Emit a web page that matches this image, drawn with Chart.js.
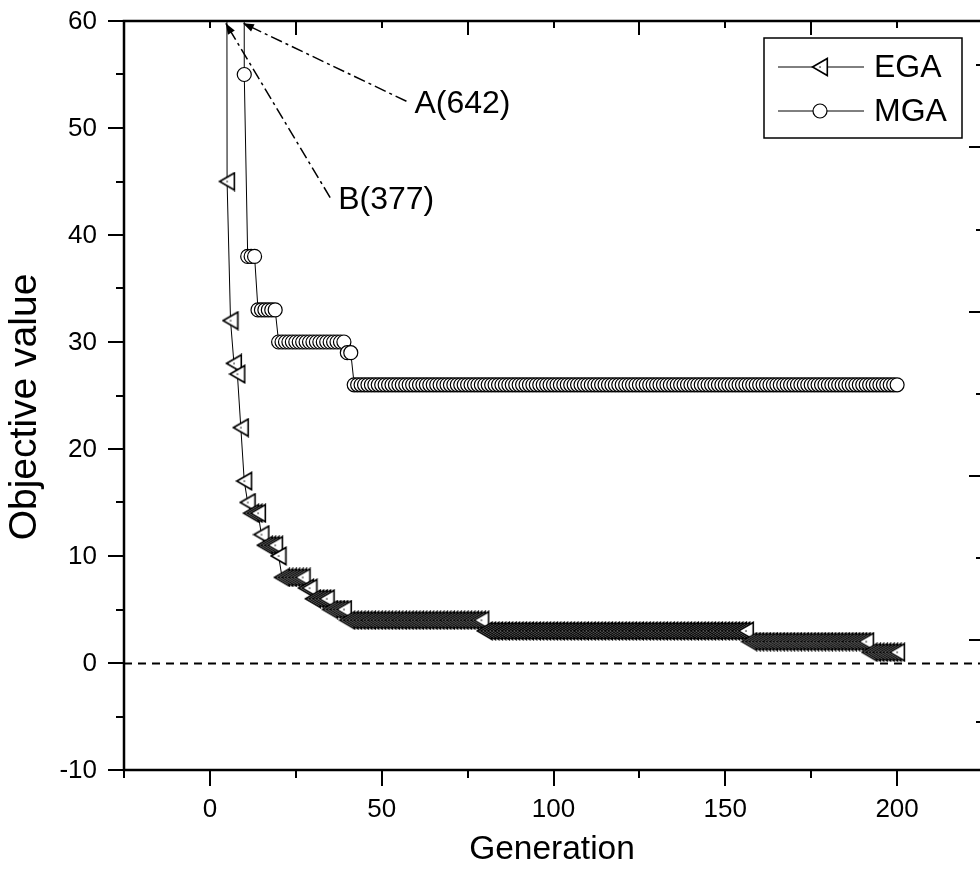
<!DOCTYPE html>
<html lang="en">
<head>
    <meta charset="UTF-8">
    <title>EGA vs MGA</title>
    <style>
        html, body {
            margin: 0;
            padding: 0;
            background: #fff;
            overflow: hidden;
        }

        #chart {
            display: block;
        }
    </style>
</head>
<body>
    <canvas id="chart" width="984" height="882"></canvas>
    <script src="https://cdn.jsdelivr.net/npm/chart.js@4"></script>
    <script>
        // generations 1..200
        const generations = [
            1, 2, 3, 4, 5, 6, 7, 8, 9, 10, 11, 12, 13, 14, 15, 16, 17, 18, 19, 20,
            21, 22, 23, 24, 25, 26, 27, 28, 29, 30, 31, 32, 33, 34, 35, 36, 37, 38, 39, 40,
            41, 42, 43, 44, 45, 46, 47, 48, 49, 50, 51, 52, 53, 54, 55, 56, 57, 58, 59, 60,
            61, 62, 63, 64, 65, 66, 67, 68, 69, 70, 71, 72, 73, 74, 75, 76, 77, 78, 79, 80,
            81, 82, 83, 84, 85, 86, 87, 88, 89, 90, 91, 92, 93, 94, 95, 96, 97, 98, 99, 100,
            101, 102, 103, 104, 105, 106, 107, 108, 109, 110, 111, 112, 113, 114, 115, 116, 117, 118, 119, 120,
            121, 122, 123, 124, 125, 126, 127, 128, 129, 130, 131, 132, 133, 134, 135, 136, 137, 138, 139, 140,
            141, 142, 143, 144, 145, 146, 147, 148, 149, 150, 151, 152, 153, 154, 155, 156, 157, 158, 159, 160,
            161, 162, 163, 164, 165, 166, 167, 168, 169, 170, 171, 172, 173, 174, 175, 176, 177, 178, 179, 180,
            181, 182, 183, 184, 185, 186, 187, 188, 189, 190, 191, 192, 193, 194, 195, 196, 197, 198, 199, 200
        ];

        // EGA best objective per generation (B(377) at gen 4)
        const egaValues = [
            null, null, null, 377, 45, 32, 28, 27, 22, 17, 15, 14, 14, 14, 12, 11, 11, 11, 11, 10,
            8, 8, 8, 8, 8, 8, 8, 7, 7, 6, 6, 6, 6, 6, 5, 5, 5, 5, 5, 4,
            4, 4, 4, 4, 4, 4, 4, 4, 4, 4, 4, 4, 4, 4, 4, 4, 4, 4, 4, 4,
            4, 4, 4, 4, 4, 4, 4, 4, 4, 4, 4, 4, 4, 4, 4, 4, 4, 4, 4, 3,
            3, 3, 3, 3, 3, 3, 3, 3, 3, 3, 3, 3, 3, 3, 3, 3, 3, 3, 3, 3,
            3, 3, 3, 3, 3, 3, 3, 3, 3, 3, 3, 3, 3, 3, 3, 3, 3, 3, 3, 3,
            3, 3, 3, 3, 3, 3, 3, 3, 3, 3, 3, 3, 3, 3, 3, 3, 3, 3, 3, 3,
            3, 3, 3, 3, 3, 3, 3, 3, 3, 3, 3, 3, 3, 3, 3, 3, 2, 2, 2, 2,
            2, 2, 2, 2, 2, 2, 2, 2, 2, 2, 2, 2, 2, 2, 2, 2, 2, 2, 2, 2,
            2, 2, 2, 2, 2, 2, 2, 2, 2, 2, 2, 1, 1, 1, 1, 1, 1, 1, 1, 1
        ];

        // MGA best objective per generation (A(642) at gen 9)
        const mgaValues = [
            null, null, null, null, null, null, null, null, 642, 55, 38, 38, 38, 33, 33, 33, 33, 33, 33, 30,
            30, 30, 30, 30, 30, 30, 30, 30, 30, 30, 30, 30, 30, 30, 30, 30, 30, 30, 30, 29,
            29, 26, 26, 26, 26, 26, 26, 26, 26, 26, 26, 26, 26, 26, 26, 26, 26, 26, 26, 26,
            26, 26, 26, 26, 26, 26, 26, 26, 26, 26, 26, 26, 26, 26, 26, 26, 26, 26, 26, 26,
            26, 26, 26, 26, 26, 26, 26, 26, 26, 26, 26, 26, 26, 26, 26, 26, 26, 26, 26, 26,
            26, 26, 26, 26, 26, 26, 26, 26, 26, 26, 26, 26, 26, 26, 26, 26, 26, 26, 26, 26,
            26, 26, 26, 26, 26, 26, 26, 26, 26, 26, 26, 26, 26, 26, 26, 26, 26, 26, 26, 26,
            26, 26, 26, 26, 26, 26, 26, 26, 26, 26, 26, 26, 26, 26, 26, 26, 26, 26, 26, 26,
            26, 26, 26, 26, 26, 26, 26, 26, 26, 26, 26, 26, 26, 26, 26, 26, 26, 26, 26, 26,
            26, 26, 26, 26, 26, 26, 26, 26, 26, 26, 26, 26, 26, 26, 26, 26, 26, 26, 26, 26
        ];

        const seriesNames = ['EGA', 'MGA'];
        const xTitle = 'Generation';
        const yTitle = 'Objective value';

        const xLabelTicks = [0, 50, 100, 150, 200];
        const xTickMarks = [-25, 0, 25, 50, 75, 100, 125, 150, 175, 200, 225];
        const yLabelTicks = [-10, 0, 10, 20, 30, 40, 50, 60];
        const yTickMarks = [-10, -5, 0, 5, 10, 15, 20, 25, 30, 35, 40, 45, 50, 55, 60];
        const rightTickMarks = [-0.5, 0, 0.5, 1, 1.5, 2, 2.5, 3, 3.5];

        const zeroLine = 0;

        // callouts: label, point on the curve (off-scale value), tail of the arrow
        const callouts = [
            { text: 'A(642)', tip: [9.6, 59.8], tail: [57.2, 52.5] },
            { text: 'B(377)', tip: [4.6, 59.8], tail: [35.0, 43.5] }
        ];

        const FONT = "'Liberation Sans', Arial, sans-serif";

        // left-pointing triangle with a centre dot, centred on its bounding box like Origin does
        function makeTriangle() {
            const c = document.createElement('canvas');
            c.width = 18;
            c.height = 20;
            const g = c.getContext('2d');
            g.beginPath();
            g.moveTo(1.5, 10);
            g.lineTo(16.3, 1.5);
            g.lineTo(16.3, 18.5);
            g.closePath();
            g.fillStyle = '#fff';
            g.fill();
            g.lineWidth = 1.6;
            g.strokeStyle = '#000';
            g.stroke();
            g.fillStyle = '#000';
            g.fillRect(8.4, 9.4, 1.3, 1.3);
            return c;
        }
        const triangle = makeTriangle();

        function drawArrowHead(ctx, x1, y1, x2, y2) {
            const ang = Math.atan2(y2 - y1, x2 - x1);
            const len = 11, half = 4;
            ctx.beginPath();
            ctx.moveTo(x2, y2);
            ctx.lineTo(x2 - len * Math.cos(ang) + half * Math.sin(ang), y2 - len * Math.sin(ang) - half * Math.cos(ang));
            ctx.lineTo(x2 - len * Math.cos(ang) - half * Math.sin(ang), y2 - len * Math.sin(ang) + half * Math.cos(ang));
            ctx.closePath();
            ctx.fill();
        }

        const originLook = {
            id: 'originLook',
            afterDraw(chart) {
                const ctx = chart.ctx;
                const area = chart.chartArea;
                const x = chart.scales.x;
                const y = chart.scales.y;
                const y2 = chart.scales.y2;
                ctx.save();
                ctx.strokeStyle = '#000';
                ctx.fillStyle = '#000';

                // dashed zero line
                ctx.lineWidth = 2;
                ctx.setLineDash([8, 6]);
                const zy = Math.round(y.getPixelForValue(zeroLine)) + 0.5;
                ctx.beginPath();
                ctx.moveTo(area.left, zy);
                ctx.lineTo(area.right, zy);
                ctx.stroke();
                ctx.setLineDash([]);

                // frame
                ctx.lineWidth = 2.5;
                ctx.strokeRect(area.left, area.top, area.right - area.left, area.bottom - area.top);

                // ticks
                ctx.lineWidth = 2;
                ctx.beginPath();
                yTickMarks.forEach(v => {
                    const py = Math.round(y.getPixelForValue(v));
                    const len = v % 10 === 0 ? 16 : 8;
                    ctx.moveTo(area.left - len, py);
                    ctx.lineTo(area.left, py);
                });
                xTickMarks.forEach(v => {
                    const px = Math.round(x.getPixelForValue(v));
                    const len = v % 50 === 0 ? 16 : 8;
                    ctx.moveTo(px, area.bottom);
                    ctx.lineTo(px, area.bottom + len);
                    const tlen = v % 50 === 0 ? 7 : 14;
                    ctx.moveTo(px, area.top);
                    ctx.lineTo(px, area.top + tlen);
                });
                rightTickMarks.forEach(v => {
                    const py = Math.round(y2.getPixelForValue(v));
                    const len = Number.isInteger(v) ? 14 : 7;
                    ctx.moveTo(area.right - len, py);
                    ctx.lineTo(area.right, py);
                });
                ctx.stroke();

                // tick labels
                ctx.font = '26px ' + FONT;
                ctx.textBaseline = 'middle';
                ctx.textAlign = 'right';
                yLabelTicks.forEach(v => {
                    ctx.fillText(String(v), area.left - 27, y.getPixelForValue(v) + 1);
                });
                ctx.textAlign = 'center';
                xLabelTicks.forEach(v => {
                    ctx.fillText(String(v), x.getPixelForValue(v), area.bottom + 40);
                });

                // axis titles
                ctx.font = '33.5px ' + FONT;
                ctx.fillText(xTitle, 552, 850);
                ctx.save();
                ctx.translate(25, 407);
                ctx.rotate(-Math.PI / 2);
                ctx.font = '39px ' + FONT;
                ctx.fillText(yTitle, 0, 0);
                ctx.restore();

                // callout arrows
                ctx.lineWidth = 1.5;
                ctx.font = '32px ' + FONT;
                ctx.textBaseline = 'middle';
                ctx.textAlign = 'left';
                callouts.forEach(c => {
                    const tx = x.getPixelForValue(c.tail[0]);
                    const ty = y.getPixelForValue(c.tail[1]);
                    const hx = x.getPixelForValue(c.tip[0]);
                    const hy = y.getPixelForValue(c.tip[1]);
                    ctx.setLineDash([12, 4, 3, 4]);
                    ctx.beginPath();
                    ctx.moveTo(tx, ty);
                    ctx.lineTo(hx, hy);
                    ctx.stroke();
                    ctx.setLineDash([]);
                    drawArrowHead(ctx, tx, ty, hx, hy);
                    ctx.fillText(c.text, tx + 8, ty + 3);
                });

                // legend
                const lx = 764, ly = 38, lw = 198, lh = 100;
                ctx.lineWidth = 1.5;
                ctx.fillStyle = '#fff';
                ctx.fillRect(lx, ly, lw, lh);
                ctx.strokeRect(lx, ly, lw, lh);
                chart.data.datasets.forEach((ds, i) => {
                    const ry = ly + 29 + i * 44;
                    ctx.lineWidth = 1;
                    ctx.beginPath();
                    ctx.moveTo(lx + 14, ry);
                    ctx.lineTo(lx + 100, ry);
                    ctx.stroke();
                    if (ds.pointStyle === 'circle') {
                        ctx.beginPath();
                        ctx.arc(lx + 56, ry, ds.pointRadius, 0, Math.PI * 2);
                        ctx.fillStyle = '#fff';
                        ctx.fill();
                        ctx.lineWidth = ds.pointBorderWidth;
                        ctx.stroke();
                    } else {
                        ctx.drawImage(ds.pointStyle, lx + 56 - 9, ry - 10);
                    }
                    ctx.fillStyle = '#000';
                    ctx.fillText(ds.label, lx + 110, ry + 1);
                });
                ctx.restore();
            }
        };

        new Chart(document.getElementById('chart'), {
            type: 'line',
            data: {
                labels: generations,
                datasets: [{
                    label: seriesNames[0],
                    data: generations.map((g, i) => ({ x: g, y: egaValues[i] })),
                    borderColor: '#000',
                    borderWidth: 1,
                    pointStyle: triangle,
                    pointRadius: 9,
                    pointBorderWidth: 1.6,
                    pointBackgroundColor: '#fff',
                    pointBorderColor: '#000',
                    spanGaps: false,
                    tension: 0
                }, {
                    label: seriesNames[1],
                    data: generations.map((g, i) => ({ x: g, y: mgaValues[i] })),
                    borderColor: '#000',
                    borderWidth: 1,
                    pointStyle: 'circle',
                    pointRadius: 7,
                    pointBorderWidth: 1.2,
                    pointBackgroundColor: '#fff',
                    pointBorderColor: '#000',
                    spanGaps: false,
                    tension: 0
                }]
            },
            options: {
                responsive: false,
                animation: false,
                events: [],
                layout: {
                    autoPadding: false,
                    padding: { top: 21, right: 1, left: 124, bottom: 112 }
                },
                plugins: {
                    legend: { display: false },
                    tooltip: { enabled: false }
                },
                scales: {
                    x: { type: 'linear', display: false, min: -25, max: 225 },
                    y: { type: 'linear', display: false, min: -10, max: 60 },
                    y2: { type: 'linear', display: false, min: -0.79, max: 3.77 }
                }
            },
            plugins: [originLook]
        });
    </script>
</body>
</html>
